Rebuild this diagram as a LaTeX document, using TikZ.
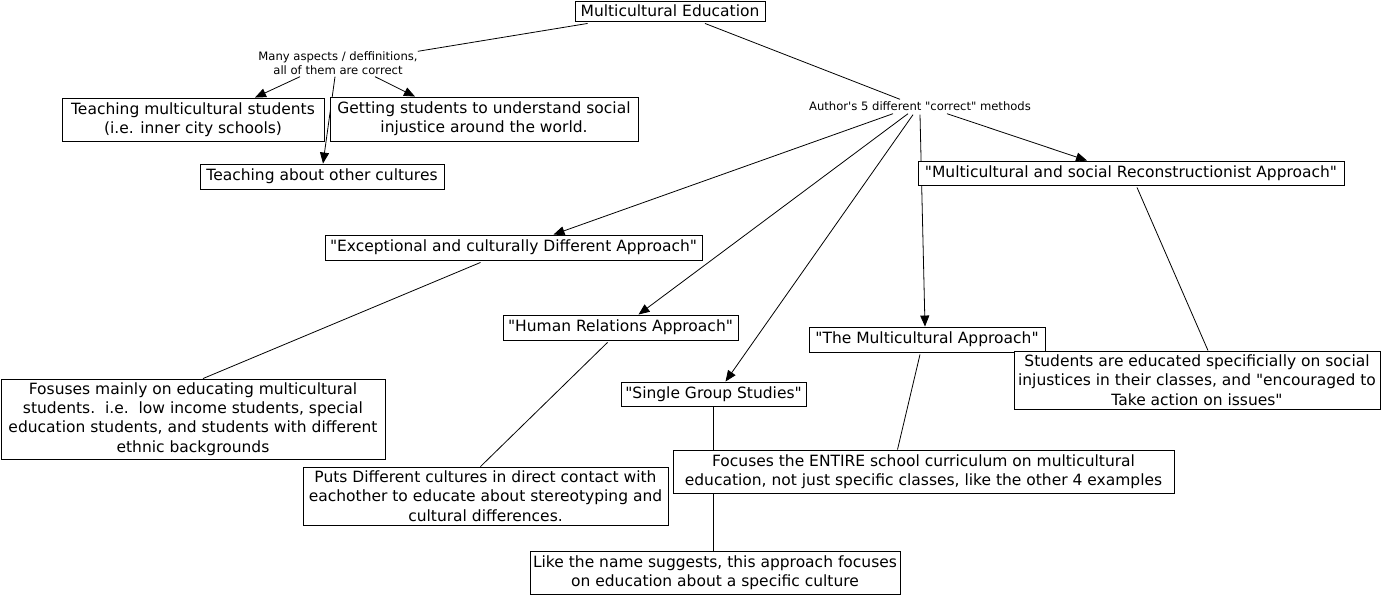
\documentclass[tikz,border=0pt]{standalone}
\usepackage{fontspec}
\setmainfont{DejaVu Sans}[Ligatures=TeXOff]
\usetikzlibrary{arrows.meta,backgrounds}
\begin{document}
\begin{tikzpicture}[x=1pt,y=-1pt,
  box/.style={draw=black,line width=0.9pt,fill=white,inner sep=0pt,align=center,
    font=\fontsize{15.5}{19.3}\selectfont},
  lab/.style={inner sep=2pt,align=center,font=\fontsize{11.6}{14}\selectfont},
  conn/.style={draw=black,line width=0.8pt},
  arr/.style={conn,-{Triangle[length=11pt,width=9pt]}}]
\useasboundingbox (0,0) rectangle (1384,595);
% boxes
\node[box,minimum width=190pt,minimum height=20pt] (top) at (670,11) {Multicultural Education};
\node[box,minimum width=262pt,minimum height=43pt] (tms) at (193,119.5) {Teaching multicultural students\\(i.e. inner city schools)};
\node[box,minimum width=308pt,minimum height=44pt] (gsu) at (484,119) {Getting students to understand social\\injustice around the world.};
\node[box,minimum width=244pt,minimum height=25pt] (tao) at (322,176.5) {Teaching about other cultures};
\node[box,minimum width=426pt,minimum height=24pt] (recon) at (1131,173) {"Multicultural and social Reconstructionist Approach"};
\node[box,minimum width=377pt,minimum height=25pt] (exc) at (513.5,247.5) {"Exceptional and culturally Different Approach"};
\node[box,minimum width=235pt,minimum height=25pt] (hum) at (620.5,327.5) {"Human Relations Approach"};
\node[box,minimum width=236pt,minimum height=25pt] (mca) at (927,339.5) {"The Multicultural Approach"};
\node[box,minimum width=185pt,minimum height=24pt] (sgs) at (713.5,394) {"Single Group Studies"};
\node[box,minimum width=384pt,minimum height=80pt] (fos) at (193,419) {Fosuses mainly on educating multicultural\\students.\ \ i.e.\ \ low income students, special\\education students, and students with different\\ethnic backgrounds};
\node[box,minimum width=365pt,minimum height=58pt] (puts) at (485.5,496) {Puts Different cultures in direct contact with\\eachother to educate about stereotyping and\\cultural differences.};
\node[box,minimum width=501pt,minimum height=43pt] (foc) at (923.5,471.5) {Focuses the ENTIRE school curriculum on multicultural\\education, not just specific classes, like the other 4 examples};
\node[box,minimum width=366pt,minimum height=58pt] (stu) at (1197,380) {Students are educated specificially on social\\injustices in their classes, and "encouraged to\\Take action on issues"};
\node[box,minimum width=370pt,minimum height=43pt] (like) at (715,572.5) {Like the name suggests, this approach focuses\\on education about a specific culture};
% labels
\node[lab] (lab1) at (338,63) {Many aspects / deffinitions,\\all of them are correct};
\node[lab] (lab2) at (920,106) {Author's 5 different "correct" methods};
% connectors
\begin{scope}[on background layer]
\fill[white] (0,0) rectangle (1384,595);
\draw[conn] ([xshift=13pt,yshift=-2pt]top.south west) -- ([xshift=-2pt,yshift=-2pt]lab1.north east);
\draw[conn] ([xshift=35pt,yshift=-2pt]top.south) -- ([xshift=-20pt]lab2.north);
\draw[arr] ([xshift=-38pt]lab1.south) -- ([xshift=62pt]tms.north);
\draw[arr] ([xshift=37pt]lab1.south) -- ([xshift=-69pt]gsu.north);
\draw[arr] ([xshift=-3pt]lab1.south) -- ([xshift=1pt]tao.north);
\draw[arr] ([xshift=-27pt,yshift=-1pt]lab2.south) -- ([xshift=40pt]exc.north);
\draw[arr] ([xshift=-12pt,yshift=-1pt]lab2.south) -- ([xshift=18pt]hum.north);
\draw[arr] ([xshift=-7pt,yshift=-2pt]lab2.south) -- ([xshift=12pt]sgs.north);
\draw[arr] ([yshift=-2pt]lab2.south) -- ([xshift=-2pt]mca.north);
\draw[arr] ([xshift=27pt,yshift=-1pt]lab2.south) -- ([xshift=-44pt]recon.north);
\draw[conn] ([xshift=-33pt,yshift=-2pt]exc.south) -- ([xshift=10pt]fos.north);
\draw[conn] ([xshift=-13pt,yshift=-2pt]hum.south) -- ([xshift=-5pt]puts.north);
\draw[conn] (sgs.south) -- (sgs.south |- like.north);
\draw[conn] ([xshift=-7pt,yshift=-2pt]mca.south) -- ([xshift=-26pt]foc.north);
\draw[conn] ([xshift=6pt,yshift=-2pt]recon.south) -- ([xshift=11pt]stu.north);
\end{scope}
\end{tikzpicture}
\end{document}
